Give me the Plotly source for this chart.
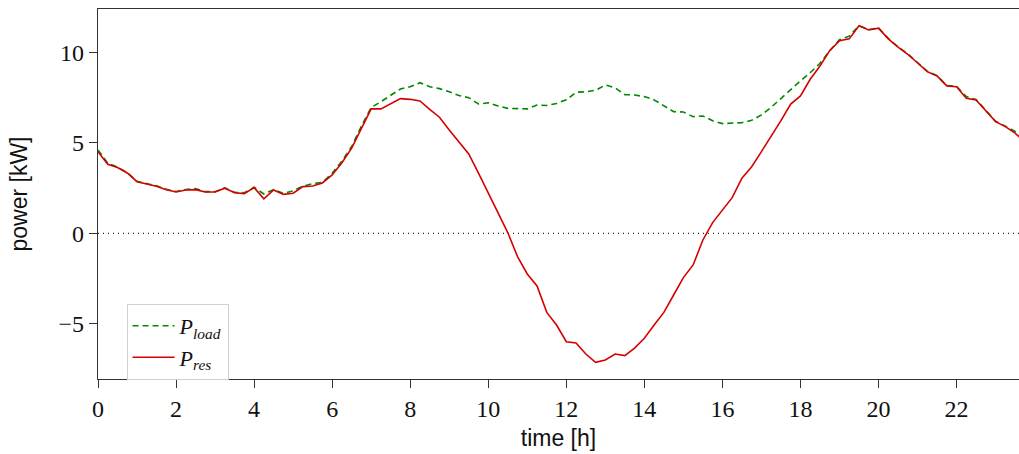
import plotly.graph_objects as go

# time axis: 15-minute steps
time_h = [i * 0.25 for i in range(96)]

p_res = [
    4.52, 3.82, 3.64, 3.34, 2.86, 2.73, 2.61, 2.42,   # 0-1.75
    2.29, 2.40, 2.42, 2.29, 2.29, 2.50, 2.25, 2.20,   # 2-3.75
    2.53, 1.91, 2.40, 2.16, 2.22, 2.59, 2.62, 2.79,   # 4-5.75
    3.23, 3.91, 4.71, 5.81, 6.88, 6.88, 7.15, 7.45,   # 6-7.75
    7.41, 7.32, 6.86, 6.42, 5.72, 5.07, 4.39, 3.33,   # 8-9.75
    2.22, 1.20, 0.05, -1.28, -2.24, -2.90, -4.36, -5.06,  # 10-11.75
    -5.98, -6.05, -6.66, -7.12, -6.99, -6.66, -6.75, -6.33,  # 12-13.75
    -5.79, -5.06, -4.36, -3.40, -2.44, -1.74, -0.36, 0.60,   # 14-15.75
    1.26, 1.98, 3.05, 3.69, 4.52, 5.35, 6.23, 7.15,   # 16-17.75
    7.60, 8.52, 9.25, 10.10, 10.65, 10.75, 11.48, 11.24,  # 18-19.75
    11.34, 10.75, 10.29, 9.90, 9.40, 8.94, 8.70, 8.15,   # 20-21.75
    8.11, 7.47, 7.38, 6.78, 6.18, 5.90, 5.54, 5.05,   # 22-23.75
]

p_load = [
    4.61, 3.88, 3.66, 3.36, 2.88, 2.75, 2.63, 2.44,
    2.32, 2.43, 2.48, 2.31, 2.31, 2.52, 2.27, 2.25,
    2.55, 2.18, 2.42, 2.22, 2.35, 2.62, 2.75, 2.82,
    3.32, 4.00, 4.80, 5.93, 6.96, 7.28, 7.62, 7.98,
    8.11, 8.33, 8.11, 8.00, 7.83, 7.62, 7.50, 7.15,
    7.22, 7.04, 6.91, 6.91, 6.88, 7.10, 7.07, 7.18,
    7.38, 7.80, 7.83, 7.91, 8.20, 8.05, 7.67, 7.65,
    7.56, 7.38, 7.04, 6.73, 6.71, 6.45, 6.49, 6.23,
    6.07, 6.09, 6.12, 6.25, 6.55, 6.97, 7.47, 7.97,
    8.43, 8.88, 9.40, 10.10, 10.70, 10.90, 11.48, 11.26,
    11.36, 10.78, 10.31, 9.92, 9.42, 8.96, 8.72, 8.17,
    8.13, 7.56, 7.40, 6.80, 6.20, 5.93, 5.64, 5.15,
]

x_ticks = list(range(0, 24, 2))
y_ticks = [-5, 0, 5, 10]
y_tick_text = ["\u22125", "0", "5", "10"]

serif = "Liberation Serif"
sans = "Liberation Sans"

fig = go.Figure()
fig.add_trace(go.Scatter(
    x=time_h, y=p_load, mode="lines",
    name="<i>P</i><sub><i>load</i></sub>",
    line=dict(color="#008800", width=1.6, dash="6px,4px"),
))
fig.add_trace(go.Scatter(
    x=time_h, y=p_res, mode="lines",
    name="<i>P</i><sub><i>res</i></sub>",
    line=dict(color="#d40000", width=1.6),
))

fig.add_shape(type="line", xref="paper", yref="y", x0=0, x1=1, y0=0, y1=0,
              line=dict(color="#222222", width=1.2, dash="1px,4px"), layer="below")

axis_common = dict(
    showgrid=False, zeroline=False, showline=True, linecolor="#333333", linewidth=1.3,
    ticks="outside", ticklen=8, tickwidth=1.2, tickcolor="#333333",
    tickfont=dict(family=serif, size=24, color="#111111"),
)

fig.update_xaxes(
    range=[0, 23.6], tickvals=x_ticks, mirror=True,
    title=dict(text="time [h]", font=dict(family=sans, size=23, color="#111111"), standoff=8),
    **axis_common,
)
fig.update_yaxes(
    range=[-8.04, 12.4], tickvals=y_ticks, ticktext=y_tick_text, mirror=False,
    title=dict(text="power [kW]", font=dict(family=sans, size=23, color="#111111"), standoff=24),
    **axis_common,
)

fig.update_layout(
    width=1019, height=454,
    margin=dict(l=98, r=0, t=9, b=75),
    plot_bgcolor="white", paper_bgcolor="white",
    showlegend=True,
    legend=dict(
        x=0.031, y=0.203, xanchor="left", yanchor="top",
        bgcolor="white", bordercolor="#d0d0d0", borderwidth=1,
        font=dict(family=serif, size=22, color="#111111"),
        tracegroupgap=0, itemwidth=42,
    ),
)

fig.write_html(
    "out.html",
    config={"displayModeBar": False},
    post_script="document.body.style.margin='0';document.body.style.overflow='hidden';",
)
